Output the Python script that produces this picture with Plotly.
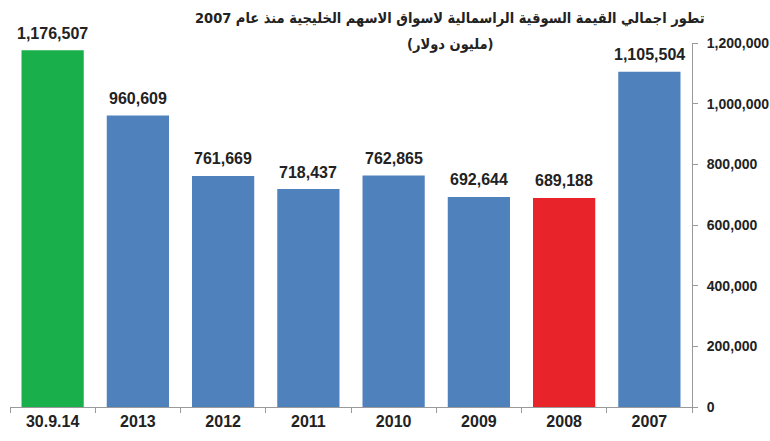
import plotly.graph_objects as go

categories = ["30.9.14", "2013", "2012", "2011", "2010", "2009", "2008", "2007"]
values = [1176507, 960609, 761669, 718437, 762865, 692644, 689188, 1105504]
bar_colors = ["#19b04b", "#4f81bd", "#4f81bd", "#4f81bd", "#4f81bd", "#4f81bd", "#e8242a", "#4f81bd"]
y_ticks = [0, 200000, 400000, 600000, 800000, 1000000, 1200000]
y_tick_labels = ["0", "200,000", "400,000", "600,000", "800,000", "1,000,000", "1,200,000"]
title_line1 = "تطور اجمالي القيمة السوقية الراسمالية لاسواق الاسهم الخليجية منذ عام 2007"
title_line2 = "(مليون دولار)"

W, H = 770, 441
ML, MR, MT, MB = 10, 78, 43, 34
PW, PH = W - ML - MR, H - MT - MB

fig = go.Figure()
fig.add_trace(go.Bar(
    x=categories, y=values,
    marker=dict(color=bar_colors, line=dict(width=0)),
    width=0.73,
))

# value labels: x given as category index on the category axis
for i, v in enumerate(values):
    fig.add_annotation(x=i, y=v, text=f"<b>{v:,}</b>", showarrow=False,
                       yanchor="middle", yshift=17,
                       font=dict(family="Liberation Sans, Arial", size=16, color="#222222"))

fig.update_layout(
    width=W, height=H,
    margin=dict(l=ML, r=MR, t=MT, b=MB),
    paper_bgcolor="white", plot_bgcolor="white",
    showlegend=False,
    xaxis=dict(
        type="category", automargin=False,
        categoryorder="array", categoryarray=categories,
        range=[-0.5, len(categories) - 0.5],
        showline=True, linecolor="#9a9a9a", linewidth=1,
        ticks="outside", tickson="boundaries", ticklen=5, tickcolor="#9a9a9a",
        tickfont=dict(family="Liberation Sans, Arial", size=16, color="#222222"),
        showgrid=False, tickangle=0,
        tickprefix="<b>", ticksuffix="</b>",
    ),
    yaxis=dict(
        side="right", range=[0, 1200000], automargin=False,
        tickvals=y_ticks, ticktext=[f"<b>{t}</b>" for t in y_tick_labels],
        showline=True, linecolor="#9a9a9a", linewidth=1,
        ticks="outside", ticklen=5, tickcolor="#9a9a9a",
        ticklabelstandoff=6,
        tickfont=dict(family="Liberation Sans, Arial", size=14, color="#222222"),
        showgrid=False, zeroline=False,
    ),
)

def px_to_paper(xp, yp):
    return (xp - ML) / PW, (H - MB - yp) / PH

tx, ty1 = px_to_paper(450, 18)
_, ty2 = px_to_paper(450, 45)
fig.add_annotation(text=f"<b>{title_line1}</b>", x=tx, y=ty1,
                   xref="paper", yref="paper", xanchor="center", yanchor="middle",
                   showarrow=False,
                   font=dict(family="DejaVu Sans Condensed, DejaVu Sans", size=14.5, color="#222222"))
fig.add_annotation(text=f"<b>{title_line2}</b>", x=tx, y=ty2,
                   xref="paper", yref="paper", xanchor="center", yanchor="middle",
                   showarrow=False,
                   font=dict(family="DejaVu Sans Condensed, DejaVu Sans", size=14.5, color="#222222"))

fig.write_html("out.html")
